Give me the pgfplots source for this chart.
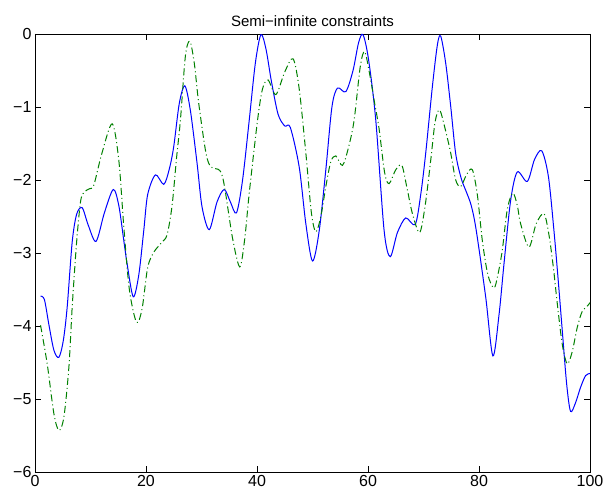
\documentclass[border=0pt]{standalone}
\usepackage{fontspec}
\setmainfont{Liberation Sans}
\usepackage{pgfplots}
\pgfplotsset{compat=1.18}
\definecolor{mblue}{rgb}{0,0,1}
\definecolor{mgreen}{rgb}{0,0.5,0}
\begin{document}
\begin{tikzpicture}
\begin{axis}[
  scale only axis,
  width=555pt, height=438pt,
  xmin=0, xmax=100, ymin=-6, ymax=0,
  xtick={0,20,40,60,80,100},
  ytick={-6,-5,-4,-3,-2,-1,0},
  yticklabels={−6,−5,−4,−3,−2,−1,0},
  tick align=inside,
  major tick length=6pt,
  tick style={black, line width=0.7pt},
  axis line style={line width=0.8pt},
  /pgf/number format/assume math mode=true,
  tick label style={font=\fontsize{16}{18}\selectfont},
  title={Semi−infinite constraints},
  title style={font=\fontsize{15}{17}\selectfont, yshift=-2pt},
  clip=true,
]
\addplot[mblue, line width=1pt, smooth, tension=0.5] coordinates {
(1,-3.59) (1.7,-3.64) (2.5,-3.98) (3.4,-4.33) (4.3,-4.43) (5.1,-4.2) (5.8,-3.74)
(6.7,-2.85) (7.5,-2.47) (8.5,-2.38) (9.6,-2.62) (11,-2.84) (12.5,-2.45) (14.1,-2.13)
(15.1,-2.35) (16,-2.83) (16.6,-3.15) (17.7,-3.6) (18.7,-3.3) (19.6,-2.69) (20.3,-2.2)
(21.7,-1.93) (23.2,-2.06) (24.2,-1.85) (25,-1.54) (26,-0.95) (27,-0.71) (28,-1.05)
(29.2,-1.77) (30.1,-2.37) (31.4,-2.68) (32.8,-2.3) (34.1,-2.13) (35.2,-2.3) (36.3,-2.45)
(37.4,-2.0) (38.6,-1.18) (39.7,-0.4) (40.7,-0.01) (41.6,-0.2) (42.6,-0.65) (43.8,-1.1)
(45,-1.26) (46,-1.28) (47.6,-1.82) (48.8,-2.6) (50,-3.11) (51.2,-2.7) (52.4,-1.86)
(53.5,-1.0) (54.5,-0.74) (56,-0.79) (57.3,-0.5) (58.3,-0.12) (59.1,-0.01) (60.1,-0.35)
(61.4,-1.18) (62.9,-2.69) (64,-3.05) (65.3,-2.72) (66.8,-2.52) (68.5,-2.61) (69.5,-2.2)
(70.4,-1.63) (71.6,-0.72) (72.5,-0.15) (73.1,-0.03) (74,-0.4) (74.9,-0.99) (75.8,-1.64)
(76.8,-1.98) (77.6,-2.14) (78.6,-2.35) (79.5,-2.69) (81.2,-3.6) (82.5,-4.41) (83.6,-3.85)
(84.5,-3.15) (85.7,-2.28) (86.9,-1.89) (88.7,-2.02) (90,-1.72) (91.3,-1.6) (92.5,-1.95)
(93.5,-2.69) (94.3,-3.4) (95,-4.06) (95.8,-4.8) (96.5,-5.17) (97.4,-5.05) (98.3,-4.84)
(99.2,-4.68) (100,-4.65)
};
\addplot[mgreen, line width=1pt, smooth, tension=0.5, dash pattern=on 7pt off 3pt on 1pt off 3pt] coordinates {
(1,-3.99) (2.2,-4.52) (3.4,-5.2) (4.3,-5.43) (5.2,-5.25) (6.1,-4.57) (6.7,-3.74)
(7.5,-2.85) (8.2,-2.3) (8.8,-2.17) (9.8,-2.12) (10.6,-2.07) (12,-1.65) (13.9,-1.23)
(15.1,-1.73) (16,-2.64) (17,-3.5) (18.3,-3.95) (19.3,-3.76) (20.3,-3.2) (21.4,-2.99)
(22.9,-2.85) (23.8,-2.75) (24.7,-2.35) (25.5,-1.7) (26.2,-1.18) (27.1,-0.3) (27.9,-0.1)
(28.7,-0.4) (29.5,-0.95) (30.8,-1.63) (31.7,-1.82) (33.3,-1.87) (34.1,-2.07) (35.6,-2.8)
(36.9,-3.19) (37.8,-2.8) (38.6,-2.18) (40.1,-1.18) (41,-0.75) (42,-0.63) (43.4,-0.83)
(45,-0.52) (46.5,-0.34) (47.6,-0.75) (48.8,-1.63) (49.8,-2.45) (50.6,-2.71) (51.5,-2.5)
(52.4,-2.09) (53.3,-1.75) (54.2,-1.67) (55.4,-1.8) (56.5,-1.55) (57.5,-1.18) (58.6,-0.45)
(59.4,-0.24) (60.3,-0.55) (61.2,-0.95) (62,-1.3) (63,-1.9) (63.8,-2.05) (65,-1.86)
(66.1,-1.8) (67,-2.1) (68,-2.46) (69.3,-2.72) (70.3,-2.35) (71.3,-1.73) (72.1,-1.2)
(72.9,-1.04) (73.9,-1.3) (74.9,-1.63) (75.8,-2.0) (76.7,-2.09) (77.8,-1.92) (78.8,-1.86)
(79.7,-2.2) (80.6,-2.83) (81.6,-3.3) (82.7,-3.48) (83.4,-3.3) (84.2,-2.96) (85.1,-2.4)
(86.1,-2.18) (86.9,-2.35) (87.5,-2.6) (89,-2.92) (90.3,-2.6) (91.7,-2.46) (92.6,-2.75)
(93.4,-3.2) (94.1,-3.69) (95,-4.25) (95.9,-4.52) (96.8,-4.35) (97.7,-4.02) (98.6,-3.8)
(99.6,-3.72) (100,-3.68)
};
\end{axis}
\path ([xshift=-35pt,yshift=-27pt]current axis.south west) rectangle ([xshift=17pt,yshift=34pt]current axis.north east);
\end{tikzpicture}
\end{document}
